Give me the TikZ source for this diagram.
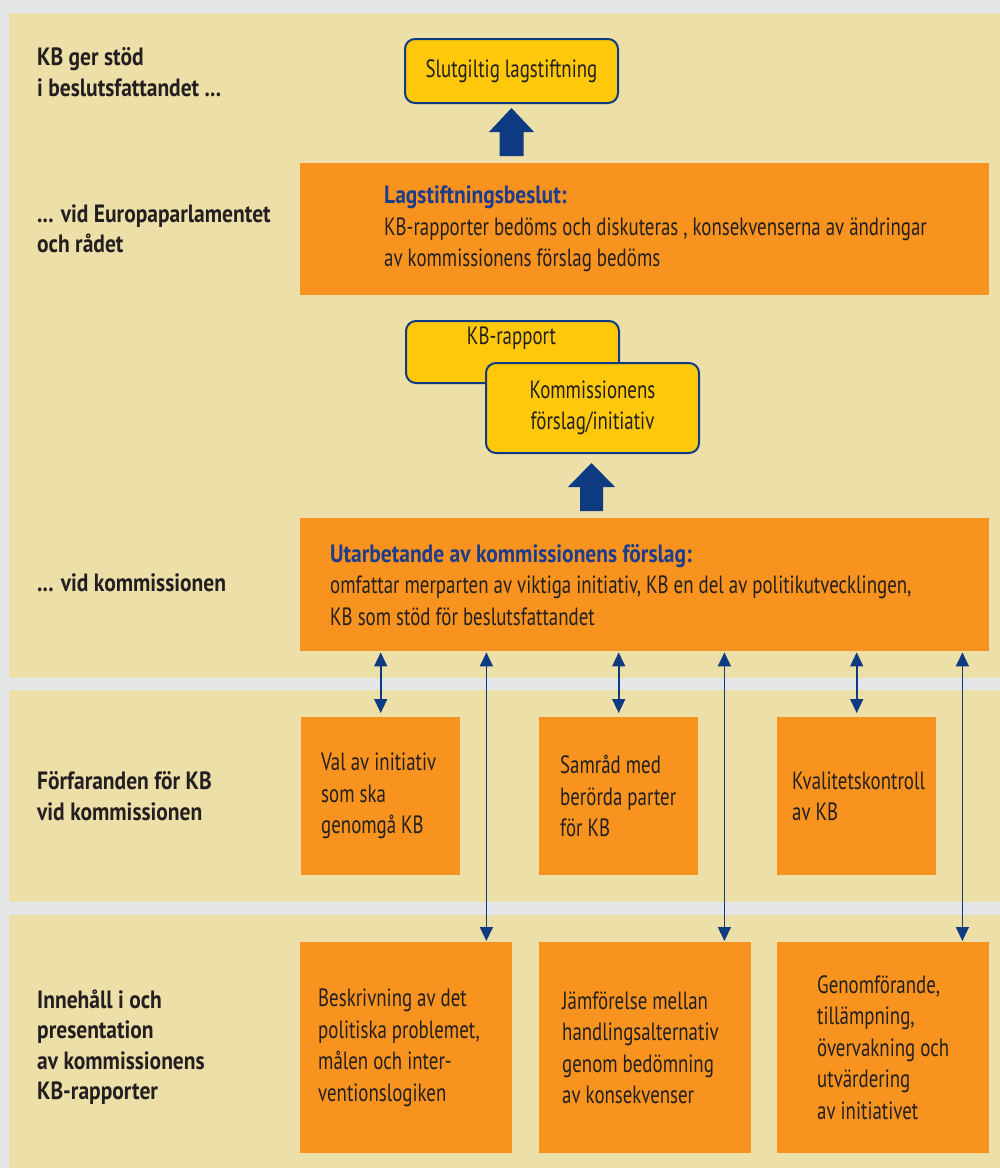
\documentclass[tikz,border=0pt]{standalone}
\usepackage{fontspec}
\setmainfont{PT Sans}[FakeStretch=0.755, BoldFeatures={FakeStretch=0.86}]
\usetikzlibrary{arrows.meta}
\definecolor{bggray}{RGB}{229,230,232}
\definecolor{beige}{RGB}{237,223,168}
\definecolor{orangebox}{RGB}{247,147,30}
\definecolor{yellowbox}{RGB}{255,200,10}
\definecolor{navy}{RGB}{14,58,130}
\definecolor{headblue}{RGB}{30,60,140}
\definecolor{ink}{RGB}{35,31,32}
\begin{document}
\begin{tikzpicture}[x=1pt,y=-1pt,
  every node/.style={font=\fontsize{25}{31.5}\selectfont, text=ink},
  panel/.style={fill=beige},
  obox/.style={fill=orangebox, draw=none, inner sep=0pt, anchor=north west},
  ybox/.style={fill=yellowbox, draw=navy, line width=2pt, rounded corners=10pt, align=center, inner sep=0pt},
  txt/.style={align=left, inner sep=0pt},
  lbl/.style={align=left, inner sep=0pt, anchor=west, font=\fontsize{25}{30.5}\selectfont\bfseries},
  dbl/.style={draw=navy, line width=1.6pt, {Triangle[width=13pt,length=14pt]}-{Triangle[width=13pt,length=14pt]}},
  blockarrow/.style={fill=navy}
]
\useasboundingbox (0,0) rectangle (1000,1168);
\fill[bggray] (0,0) rectangle (1000,1168);
\fill[panel] (9,13) rectangle (1000,678);
\fill[panel] (9,690) rectangle (1000,902);
\fill[panel] (9,915) rectangle (1000,1168);

% left labels
\node[lbl] (l1) at (37,72) {KB ger stöd\\i beslutsfattandet ...};
\node[lbl] (l2) at (37,229) {... vid Europaparlamentet\\och rådet};
\node[lbl] (l3) at (37,583) {... vid kommissionen};
\node[lbl] (l4) at (37,796) {Förfaranden för KB\\vid kommissionen};
\node[lbl] (l5) at (37,1047) {Innehåll i och\\presentation\\av kommissionens\\KB-rapporter};

% top box
\node[ybox, minimum width=213pt, minimum height=64pt] (slut) at (511.5,71) {Slutgiltig lagstiftning};
\fill[blockarrow] (499.5,156) -- (499.5,132) -- (489,132) -- (511.5,108) -- (534,132) -- (523.5,132) -- (523.5,156) -- cycle;

% Lagstiftningsbeslut
\node[obox, minimum width=689pt, minimum height=132pt] (lag) at (300,163) {};
\node[txt, anchor=west] (lagt) at ([xshift=84pt]lag.west) {\textcolor{headblue}{\bfseries Lagstiftningsbeslut:}\\KB-rapporter bedöms och diskuteras , konsekvenserna av ändringar\\av kommissionens förslag bedöms};

% KB-rapport and Kommissionens
\node[ybox, minimum width=213pt, minimum height=62pt, anchor=north west] (kbr) at (405,320) {};
\node[txt] (kbrt) at (511.5,338) {KB-rapport};
\node[ybox, minimum width=213pt, minimum height=90pt, anchor=north west] (kom) at (485,362) {Kommissionens\\förslag/initiativ};
\fill[blockarrow] (580,511) -- (580,487) -- (568,487) -- (591.5,463) -- (615,487) -- (603,487) -- (603,511) -- cycle;

% Utarbetande
\node[obox, minimum width=689pt, minimum height=133pt] (u) at (300,518) {};
\node[txt, anchor=west] (ut) at ([xshift=30pt]u.west) {\textcolor{headblue}{\bfseries Utarbetande av kommissionens förslag:}\\omfattar merparten av viktiga initiativ, KB en del av politikutvecklingen,\\KB som stöd för beslutsfattandet};

% middle boxes
\node[obox, minimum width=159pt, minimum height=158pt] (m1) at (301,717) {};
\node[txt, anchor=west] (m1t) at ([xshift=20pt]m1.west) {Val av initiativ\\som ska\\genomgå KB};
\node[obox, minimum width=159pt, minimum height=158pt] (m2) at (539,717) {};
\node[txt, anchor=west] (m2t) at ([xshift=21pt]m2.west) {Samråd med\\berörda parter\\för KB};
\node[obox, minimum width=159pt, minimum height=158pt] (m3) at (777,717) {};
\node[txt, anchor=west] (m3t) at ([xshift=15pt]m3.west) {Kvalitetskontroll\\av KB};

% bottom boxes
\node[obox, minimum width=212pt, minimum height=211pt] (b1) at (300,942) {};
\node[txt, anchor=west] (b1t) at ([xshift=18pt]b1.west) {Beskrivning av det\\politiska problemet,\\målen och inter-\\ventionslogiken};
\node[obox, minimum width=212pt, minimum height=211pt] (b2) at (539,942) {};
\node[txt, anchor=west] (b2t) at ([xshift=23pt]b2.west) {Jämförelse mellan\\handlingsalternativ\\genom bedömning\\av konsekvenser};
\node[obox, minimum width=212pt, minimum height=211pt] (b3) at (777,942) {};
\node[txt, anchor=west] (b3t) at ([xshift=40pt]b3.west) {Genomförande,\\tillämpning,\\övervakning och\\utvärdering\\av initiativet};

% connectors
\draw[dbl, shorten <=1pt, shorten >=4pt] (u.south -| m1.north) -- (m1.north);
\draw[dbl, shorten <=1pt, shorten >=4pt] (u.south -| m2.north) -- (m2.north);
\draw[dbl, shorten <=1pt, shorten >=4pt] (u.south -| m3.north) -- (m3.north);
\draw[dbl, shorten <=1pt, shorten >=1pt] ([xshift=-26pt]b1.north east |- u.south) -- ([xshift=-26pt]b1.north east);
\draw[dbl, shorten <=1pt, shorten >=1pt] ([xshift=-27pt]b2.north east |- u.south) -- ([xshift=-27pt]b2.north east);
\draw[dbl, shorten <=1pt, shorten >=1pt] ([xshift=-27pt]b3.north east |- u.south) -- ([xshift=-27pt]b3.north east);
\end{tikzpicture}
\end{document}
